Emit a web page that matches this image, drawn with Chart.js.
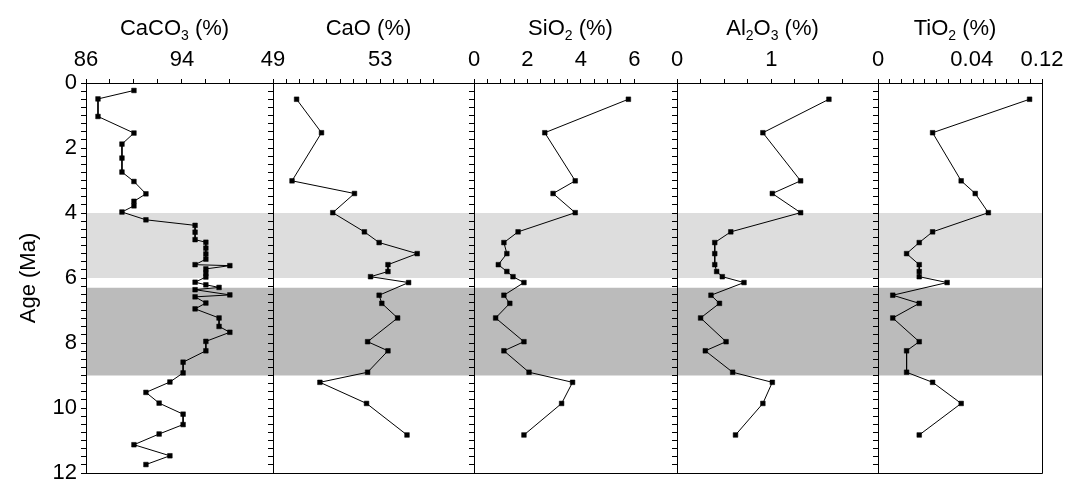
<!DOCTYPE html>
<html>
<head>
<meta charset="utf-8">
<script src="https://cdn.jsdelivr.net/npm/chart.js@4.4.1/dist/chart.umd.min.js"></script>
<style>
  html, body { margin: 0; padding: 0; background: #fff; }
  #wrap { position: relative; width: 1080px; height: 482px; overflow: hidden; background: #fff; }
  #wrap canvas { position: absolute; top: 0; }
</style>
</head>
<body>
<div id="wrap"></div>
<script>
// ---- Carbonate content down-core (age in Ma) ----
const AGE_CACO3 = [0.23, 0.49, 1.03, 1.54, 1.88, 2.31, 2.74, 3.03, 3.41, 3.64,
                   3.78, 3.97, 4.21, 4.38, 4.59, 4.82, 4.90, 5.08, 5.26, 5.42,
                   5.59, 5.62, 5.72, 5.85, 5.97, 6.13, 6.21, 6.29, 6.36, 6.52,
                   6.58, 6.77, 6.95, 7.23, 7.49, 7.67, 7.95, 8.24, 8.59, 8.92,
                   9.20, 9.52, 9.85, 10.19, 10.51, 10.80, 11.13, 11.47, 11.74];
const CACO3 = [90.0, 87.0, 87.0, 90.0, 89.0, 89.0, 89.0, 90.0, 91.0, 90.0,
               90.0, 89.0, 91.0, 95.1, 95.1, 95.1, 96.0, 96.0, 96.0, 96.0,
               95.1, 98.0, 96.0, 96.0, 96.0, 95.1, 96.0, 97.1, 95.1, 98.0,
               95.1, 96.0, 95.1, 97.1, 97.1, 98.0, 96.0, 96.0, 94.1, 94.1,
               93.0, 91.0, 92.1, 94.1, 94.1, 92.1, 90.0, 93.0, 91.0];

// ---- Major oxides, measured on the same set of samples ----
const AGE_OXIDES = [0.50, 1.53, 3.01, 3.40, 3.99, 4.58, 4.91, 5.25, 5.59, 5.80,
                    5.96, 6.14, 6.53, 6.78, 7.23, 7.96, 8.24, 8.90, 9.21, 9.86, 10.83];
const CAO   = [49.88, 50.81, 49.71, 52.04, 51.23, 52.41, 52.96, 54.38, 53.29, 53.29,
               52.64, 54.06, 52.96, 53.06, 53.65, 52.53, 53.29, 52.53, 50.75, 52.49, 54.00];
const SIO2  = [5.78, 2.65, 3.79, 2.96, 3.79, 1.65, 1.12, 1.23, 0.91, 1.23,
               1.46, 1.87, 1.12, 1.34, 0.81, 1.87, 1.12, 2.06, 3.69, 3.28, 1.87];
const AL2O3 = [1.61, 0.91, 1.31, 1.01, 1.31, 0.57, 0.40, 0.40, 0.40, 0.42,
               0.48, 0.71, 0.36, 0.45, 0.25, 0.52, 0.30, 0.59, 1.01, 0.91, 0.62];
const TIO2  = [0.0647, 0.0233, 0.0355, 0.0415, 0.0471, 0.0233, 0.0176, 0.0122, 0.0176, 0.0176,
               0.0176, 0.0295, 0.0063, 0.0176, 0.0063, 0.0176, 0.0122, 0.0122, 0.0233, 0.0355, 0.0176];

// ---- Axis settings per panel ----
const PANEL_TITLES = [
  [['CaCO', 0], ['3', 1], [' (%)', 0]],
  [['CaO (%)', 0]],
  [['SiO', 0], ['2', 1], [' (%)', 0]],
  [['Al', 0], ['2', 1], ['O', 0], ['3', 1], [' (%)', 0]],
  [['TiO', 0], ['2', 1], [' (%)', 0]]
];
const X_MIN = [86, 49, 0, 0, 0];
const X_MAX = [101.6, 56.5, 7.6, 2.13, 0.07];
const X_TICK_STEP = [2, 0.5, 0.5, 0.25, 0.005];
const X_TICK_LAST = [98, 55, 6, 1.75, 0.07];
const X_TICK_LABELS = [[86, 94], [49, 53], [0, 2, 4, 6], [0, 1], [0, 0.04]];
const X_END_LABEL = [null, null, null, null, '0.12'];

const AGE_MIN = 0, AGE_MAX = 12, AGE_MINOR = 0.25, AGE_LABEL_EVERY = 2;
const AGE_TITLE = 'Age (Ma)';

// Shaded intervals (age from, age to, fill)
const BAND_FROM = [4.0, 6.3];
const BAND_TO   = [6.0, 9.0];
const BAND_FILL = ['#dddddd', '#bbbbbb'];

// ---- Layout ----
const FONT = "'Liberation Sans', Arial, Helvetica, sans-serif";
const TEXT_SIZE = 22, SUB_SIZE = 14;
const PANEL_LEFT  = [86, 273, 474, 677, 878];
const PANEL_RIGHT = [273, 474, 677, 878, 1042];
const HEADING_SHIFT = -5;
const PLOT_TOP = 83, PLOT_BOTTOM = 473, PAGE_H = 482, SIDE = 45, TICK_LEN = 5;

const SERIES = [CACO3, CAO, SIO2, AL2O3, TIO2];
const AGES = [AGE_CACO3, AGE_OXIDES, AGE_OXIDES, AGE_OXIDES, AGE_OXIDES];

function steps(from, to, step) {
  const out = [];
  const n = Math.round((to - from) / step);
  for (let k = 0; k <= n; k++) out.push(+(from + k * step).toFixed(6));
  return out;
}

// Background bands, closing frame lines and the panel heading with subscripts
const panelDecor = {
  id: 'panelDecor',
  beforeDraw(chart) {
    const { ctx, chartArea: a, scales: { y } } = chart;
    ctx.save();
    BAND_FROM.forEach((from, k) => {
      const y0 = y.getPixelForValue(from), y1 = y.getPixelForValue(BAND_TO[k]);
      ctx.fillStyle = BAND_FILL[k];
      ctx.fillRect(a.left, Math.min(y0, y1), a.right - a.left, Math.abs(y1 - y0));
    });
    ctx.restore();
  },
  afterDraw(chart, args, opts) {
    const { ctx, chartArea: a } = chart;
    ctx.save();
    ctx.strokeStyle = '#000';
    ctx.lineWidth = 1;
    ctx.beginPath();
    const xr = Math.round(a.right) + 0.5, yb = Math.round(a.bottom) + 0.5;
    ctx.moveTo(xr, Math.round(a.top));
    ctx.lineTo(xr, yb);
    ctx.lineTo(Math.round(a.left), yb);
    ctx.stroke();

    // heading
    const parts = opts.parts || [];
    const mainFont = TEXT_SIZE + 'px ' + FONT, subFont = SUB_SIZE + 'px ' + FONT;
    let total = 0;
    parts.forEach(([t, sub]) => { ctx.font = sub ? subFont : mainFont; total += ctx.measureText(t).width; });
    let x = (a.left + a.right) / 2 - total / 2 + HEADING_SHIFT;
    const base = 35;
    ctx.fillStyle = '#000';
    ctx.textBaseline = 'alphabetic';
    ctx.textAlign = 'left';
    parts.forEach(([t, sub]) => {
      ctx.font = sub ? subFont : mainFont;
      ctx.fillText(t, x, sub ? base + 5 : base);
      x += ctx.measureText(t).width;
    });
    ctx.restore();
  }
};

const wrap = document.getElementById('wrap');

for (let i = 0; i < 5; i++) {
  const first = i === 0;
  const canvasLeft = first ? 0 : PANEL_LEFT[i] - SIDE;
  const canvasW = (PANEL_RIGHT[i] - canvasLeft) + SIDE;
  const cv = document.createElement('canvas');
  cv.width = canvasW; cv.height = PAGE_H;
  cv.style.left = canvasLeft + 'px';
  cv.style.width = canvasW + 'px';
  cv.style.height = PAGE_H + 'px';
  wrap.appendChild(cv);

  const pts = SERIES[i].map((v, j) => ({ x: v, y: AGES[i][j] }));
  const labelled = X_TICK_LABELS[i];
  const step = X_TICK_STEP[i];

  new Chart(cv, {
    type: 'line',
    data: {
      datasets: [{
        data: pts,
        borderColor: '#000',
        borderWidth: 1,
        tension: 0,
        fill: false,
        pointStyle: 'rect',
        pointRadius: 3.3,
        pointBackgroundColor: '#000',
        pointBorderColor: '#000',
        pointBorderWidth: 0.5
      }]
    },
    options: {
      responsive: false,
      animation: false,
      devicePixelRatio: 1,
      events: [],
      layout: {
        padding: {
          left: first ? 0 : SIDE - TICK_LEN,
          right: SIDE,
          top: 0,
          bottom: PAGE_H - PLOT_BOTTOM
        }
      },
      plugins: {
        legend: { display: false },
        tooltip: { enabled: false },
        panelDecor: { parts: PANEL_TITLES[i] }
      },
      scales: {
        x: {
          type: 'linear',
          position: 'top',
          min: X_MIN[i],
          max: X_MAX[i],
          afterBuildTicks: (s) => {
            s.ticks = steps(X_MIN[i], X_TICK_LAST[i], step).map(v => ({ value: v }));
          },
          afterFit: (s) => {
            s.height = PLOT_TOP;
            s.paddingLeft = 0; s.paddingRight = 0;
          },
          ticks: {
            autoSkip: false,
            maxRotation: 0,
            color: '#000',
            padding: 6,
            font: { family: FONT, size: TEXT_SIZE },
            callback: (v) => {
              if (X_END_LABEL[i] && Math.abs(v - X_MAX[i]) < step / 10) return X_END_LABEL[i];
              return labelled.some(l => Math.abs(l - v) < step / 10) ? String(v) : '';
            }
          },
          grid: { drawOnChartArea: false, drawTicks: true, tickLength: 4, color: '#000', lineWidth: 1 },
          border: { display: true, color: '#000', width: 1 }
        },
        y: {
          type: 'linear',
          reverse: true,
          min: AGE_MIN,
          max: AGE_MAX,
          afterBuildTicks: (s) => {
            s.ticks = steps(AGE_MIN, AGE_MAX, AGE_MINOR).map(v => ({ value: v }));
          },
          afterFit: (s) => {
            s.width = first ? PANEL_LEFT[0] : TICK_LEN;
            s.paddingTop = 0; s.paddingBottom = 0;
          },
          ticks: {
            display: first,
            autoSkip: false,
            color: '#000',
            padding: 4,
            font: { family: FONT, size: TEXT_SIZE },
            callback: (v) => (Math.abs(v / AGE_LABEL_EVERY - Math.round(v / AGE_LABEL_EVERY)) < 1e-6 ? String(v) : '')
          },
          title: {
            display: first,
            text: AGE_TITLE,
            color: '#000',
            font: { family: FONT, size: TEXT_SIZE },
            padding: { top: 16, bottom: 0 }
          },
          grid: { drawOnChartArea: false, drawTicks: true, tickLength: TICK_LEN, color: '#000', lineWidth: 1 },
          border: { display: true, color: '#000', width: 1 }
        }
      }
    },
    plugins: [panelDecor]
  });
}
</script>
</body>
</html>
